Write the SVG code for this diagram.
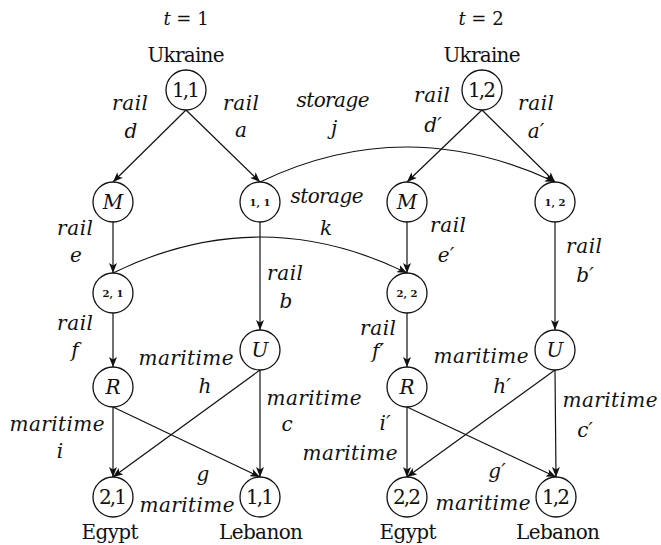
<svg xmlns="http://www.w3.org/2000/svg" width="661" height="545" viewBox="0 0 661 545" font-family="DejaVu Serif, serif" font-size="20">
  <style>
    text { fill: #111; text-anchor: middle; }
    .it { font-style: italic; }
    .sm { font-size: 10px; font-weight: bold; }
    .hd { font-size: 18px; }
    .node circle { fill: #fff; stroke: #111; stroke-width: 1.3; }
    .edge { fill: none; stroke: #111; stroke-width: 1.2; marker-end: url(#arr); }
  </style>
  <defs>
    <marker id="arr" markerWidth="10" markerHeight="8" refX="10" refY="4" orient="auto" markerUnits="userSpaceOnUse">
      <path d="M0,0 L10,4 L0,8 L2.5,4 z" fill="#111"/>
    </marker>
  </defs>
  <rect width="661" height="545" fill="#fff"/>

  <!-- period headings -->
  <text class="hd" x="186" y="25"><tspan class="it">t</tspan> = 1</text>
  <text class="hd" x="481" y="25"><tspan class="it">t</tspan> = 2</text>

  <!-- connectors -->
  <g id="connectors">
    <!-- period 1 -->
    <line class="edge" x1="186" y1="110" x2="113" y2="182"/>
    <line class="edge" x1="186" y1="110" x2="260" y2="182"/>
    <line class="edge" x1="113" y1="222" x2="113" y2="273"/>
    <line class="edge" x1="113" y1="313" x2="113" y2="367"/>
    <line class="edge" x1="260" y1="222" x2="260" y2="330"/>
    <line class="edge" x1="113" y1="407" x2="113" y2="477"/>
    <line class="edge" x1="113" y1="407" x2="260" y2="477"/>
    <line class="edge" x1="260" y1="370" x2="113" y2="477"/>
    <line class="edge" x1="260" y1="370" x2="260" y2="477"/>
    <!-- period 2 -->
    <line class="edge" x1="482" y1="110" x2="407" y2="182"/>
    <line class="edge" x1="482" y1="110" x2="555" y2="182"/>
    <line class="edge" x1="407" y1="222" x2="407" y2="273"/>
    <line class="edge" x1="407" y1="313" x2="407" y2="367"/>
    <line class="edge" x1="555" y1="222" x2="555" y2="330"/>
    <line class="edge" x1="407" y1="407" x2="407" y2="477"/>
    <line class="edge" x1="407" y1="407" x2="556" y2="477"/>
    <line class="edge" x1="555" y1="370" x2="407" y2="477"/>
    <line class="edge" x1="555" y1="370" x2="556" y2="477"/>
    <!-- storage between periods -->
    <path class="edge" d="M260,182 Q405,112 555,182"/>
    <path class="edge" d="M113,273 Q260,201 407,273"/>
  </g>

  <!-- nodes, period 1 -->
  <g id="ukraine-1" class="node"><circle cx="186" cy="90" r="20"/><text x="186" y="97" textLength="28">1,1</text><text x="186" y="62" textLength="77">Ukraine</text></g>
  <g id="m-1" class="node"><circle cx="113" cy="202" r="20"/><text class="it" x="113" y="209">M</text></g>
  <g id="store-11" class="node"><circle cx="260" cy="202" r="20"/><text class="sm" x="260" y="206">1, 1</text></g>
  <g id="store-21" class="node"><circle cx="113" cy="293" r="20"/><text class="sm" x="113" y="297">2, 1</text></g>
  <g id="u-1" class="node"><circle cx="260" cy="350" r="20"/><text class="it" x="260" y="357">U</text></g>
  <g id="r-1" class="node"><circle cx="113" cy="387" r="20"/><text class="it" x="113" y="394">R</text></g>
  <g id="egypt-1" class="node"><circle cx="113" cy="497" r="20"/><text x="113" y="504" textLength="28">2,1</text><text x="110" y="539" textLength="57">Egypt</text></g>
  <g id="lebanon-1" class="node"><circle cx="260" cy="497" r="20"/><text x="260" y="504" textLength="28">1,1</text><text x="261" y="539" textLength="84">Lebanon</text></g>

  <!-- nodes, period 2 -->
  <g id="ukraine-2" class="node"><circle cx="482" cy="90" r="20"/><text x="482" y="97" textLength="28">1,2</text><text x="482" y="62" textLength="77">Ukraine</text></g>
  <g id="m-2" class="node"><circle cx="407" cy="202" r="20"/><text class="it" x="407" y="209">M</text></g>
  <g id="store-12" class="node"><circle cx="555" cy="202" r="20"/><text class="sm" x="555" y="206">1, 2</text></g>
  <g id="store-22" class="node"><circle cx="407" cy="293" r="20"/><text class="sm" x="407" y="297">2, 2</text></g>
  <g id="u-2" class="node"><circle cx="555" cy="350" r="20"/><text class="it" x="555" y="357">U</text></g>
  <g id="r-2" class="node"><circle cx="407" cy="387" r="20"/><text class="it" x="407" y="394">R</text></g>
  <g id="egypt-2" class="node"><circle cx="407" cy="497" r="20"/><text x="407" y="504" textLength="28">2,2</text><text x="408" y="539" textLength="57">Egypt</text></g>
  <g id="lebanon-2" class="node"><circle cx="556" cy="497" r="20"/><text x="556" y="504" textLength="28">1,2</text><text x="558" y="539" textLength="84">Lebanon</text></g>

  <!-- edge labels -->
  <g id="edge-labels">
    <text class="it" x="130" y="110" textLength="36">rail</text><text class="it" x="131" y="138">d</text>
    <text class="it" x="241" y="110" textLength="36">rail</text><text class="it" x="241" y="137">a</text>
    <text class="it" x="333" y="107" textLength="73">storage</text><text class="it" x="334" y="135">j</text>
    <text class="it" x="432" y="102" textLength="36">rail</text><text class="it" x="433" y="132">d′</text>
    <text class="it" x="536" y="110" textLength="36">rail</text><text class="it" x="536" y="138">a′</text>

    <text class="it" x="327" y="203" textLength="73">storage</text><text class="it" x="326" y="235">k</text>
    <text class="it" x="75" y="235" textLength="36">rail</text><text class="it" x="76" y="262">e</text>
    <text class="it" x="285" y="280" textLength="36">rail</text><text class="it" x="286" y="308">b</text>
    <text class="it" x="75" y="330" textLength="36">rail</text><text class="it" x="75" y="357">f</text>
    <text class="it" x="448" y="232" textLength="36">rail</text><text class="it" x="446" y="262">e′</text>
    <text class="it" x="584" y="253" textLength="36">rail</text><text class="it" x="585" y="282">b′</text>
    <text class="it" x="378" y="335" textLength="36">rail</text><text class="it" x="378" y="358">f′</text>

    <text class="it" x="186" y="365" textLength="95">maritime</text><text class="it" x="205" y="393">h</text>
    <text class="it" x="314" y="405" textLength="95">maritime</text><text class="it" x="287" y="431">c</text>
    <text class="it" x="57" y="431" textLength="95">maritime</text><text class="it" x="60" y="458">i</text>
    <text class="it" x="203" y="481">g</text>
    <text class="it" x="187" y="512" textLength="95">maritime</text>

    <text class="it" x="481" y="363" textLength="95">maritime</text><text class="it" x="502" y="393">h′</text>
    <text class="it" x="610" y="407" textLength="95">maritime</text><text class="it" x="585" y="437">c′</text>
    <text class="it" x="385" y="430">i′</text>
    <text class="it" x="350" y="460" textLength="95">maritime</text>
    <text class="it" x="497" y="478">g′</text>
    <text class="it" x="483" y="510" textLength="95">maritime</text>
  </g>
</svg>
